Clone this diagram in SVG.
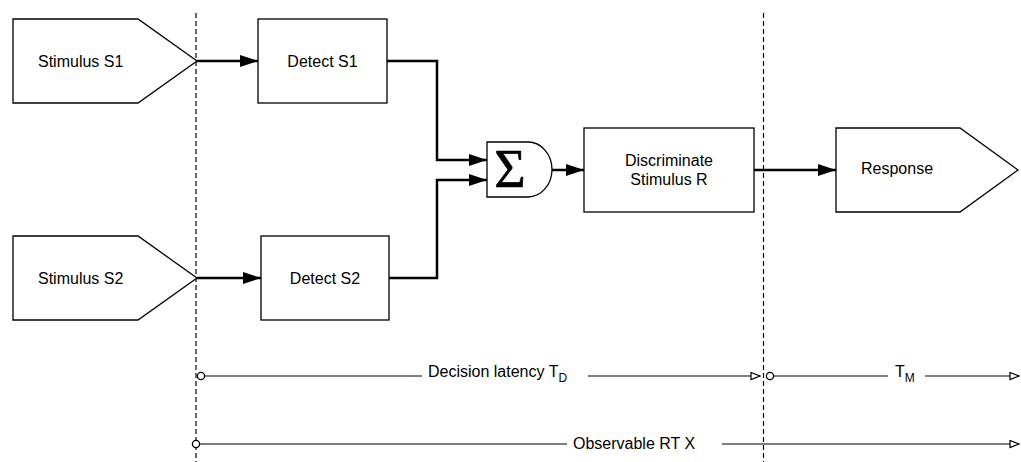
<svg xmlns="http://www.w3.org/2000/svg" width="1021" height="462" viewBox="0 0 1021 462">
  <style>
    .shape { fill: #fff; stroke: #000; stroke-width: 1.3; }
    .label { font-family: "Liberation Sans", Arial, Helvetica, sans-serif; font-size: 16px; fill: #000; }
    .mid { text-anchor: middle; }
    .flow { fill: none; stroke: #000; stroke-width: 2.5; }
    .dim { fill: none; stroke: #000; stroke-width: 1.2; }
    .guide { fill: none; stroke: #000; stroke-width: 1.2; stroke-dasharray: 5 3; }
    .dot { fill: #fff; stroke: #000; stroke-width: 1.3; }
    .sub { font-size: 12px; }
  </style>
  <defs>
    <marker id="solid" markerUnits="userSpaceOnUse" markerWidth="18" markerHeight="12" refX="18" refY="6" orient="auto">
      <path d="M0,0 L18,6 L0,12 Z" fill="#000"/>
    </marker>
    <marker id="open" markerUnits="userSpaceOnUse" markerWidth="11" markerHeight="9" refX="10" refY="4.5" orient="auto">
      <path d="M1,1 L10,4.5 L1,8 Z" fill="#fff" stroke="#000" stroke-width="1.2"/>
    </marker>
  </defs>

  <rect width="1021" height="462" fill="#fff"/>

  <!-- phase boundaries -->
  <g id="boundaries">
    <line class="guide" x1="196" y1="13" x2="196" y2="462"/>
    <line class="guide" x1="763.5" y1="13" x2="763.5" y2="462"/>
  </g>

  <!-- nodes -->
  <g id="stimulus-s1">
    <polygon class="shape" points="13,19 138,19 197,61 138,103 13,103"/>
    <text class="label" x="38" y="66.5">Stimulus S1</text>
  </g>
  <g id="stimulus-s2">
    <polygon class="shape" points="13,236 138,236 197,278 138,320 13,320"/>
    <text class="label" x="38" y="283.5">Stimulus S2</text>
  </g>
  <g id="detect-s1">
    <rect class="shape" x="258" y="19" width="129" height="84"/>
    <text class="label mid" x="322.5" y="66.5">Detect S1</text>
  </g>
  <g id="detect-s2">
    <rect class="shape" x="261" y="236" width="128" height="84"/>
    <text class="label mid" x="325" y="283.5">Detect S2</text>
  </g>
  <g id="sum">
    <path class="shape" d="M487,142 H528 A24,27.5 0 0 1 528,197 H487 Z"/>
    <text x="510" y="187" text-anchor="middle" font-family="Liberation Serif, Times New Roman, serif" font-size="54" stroke="#000" stroke-width="0.6">Σ</text>
  </g>
  <g id="discriminate">
    <rect class="shape" x="584" y="128" width="170" height="84"/>
    <text class="label mid" x="669" y="166">Discriminate</text>
    <text class="label mid" x="669" y="185">Stimulus R</text>
  </g>
  <g id="response">
    <polygon class="shape" points="836,128 960,128 1018,170 960,212 836,212"/>
    <text class="label" x="861" y="174">Response</text>
  </g>

  <!-- connectors -->
  <g id="connectors">
    <path class="flow" d="M197,61 H258" marker-end="url(#solid)"/>
    <path class="flow" d="M197,278 H261" marker-end="url(#solid)"/>
    <path class="flow" d="M387,61 H437 V160 H487" marker-end="url(#solid)"/>
    <path class="flow" d="M389,278 H437 V180 H487" marker-end="url(#solid)"/>
    <path class="flow" d="M552,170 H584" marker-end="url(#solid)"/>
    <path class="flow" d="M754,170 H836" marker-end="url(#solid)"/>
  </g>

  <!-- timing spans -->
  <g id="decision-latency">
    <line class="dim" x1="204.5" y1="376" x2="422" y2="376"/>
    <path class="dim" d="M588,376 H760" marker-end="url(#open)"/>
    <circle class="dot" cx="201" cy="376" r="3.6"/>
    <text class="label" x="428" y="376.7">Decision latency T<tspan class="sub" dy="5">D</tspan></text>
  </g>
  <g id="motor-time">
    <line class="dim" x1="773.5" y1="376" x2="888" y2="376"/>
    <path class="dim" d="M925,376 H1019" marker-end="url(#open)"/>
    <circle class="dot" cx="770" cy="376" r="3.6"/>
    <text class="label" x="895" y="376.7">T<tspan class="sub" dy="5">M</tspan></text>
  </g>
  <g id="observable-rt">
    <line class="dim" x1="199.5" y1="444" x2="567" y2="444"/>
    <path class="dim" d="M722,444 H1019" marker-end="url(#open)"/>
    <circle class="dot" cx="196" cy="444" r="3.6"/>
    <text class="label" x="573" y="449.3">Observable RT X</text>
  </g>
</svg>
